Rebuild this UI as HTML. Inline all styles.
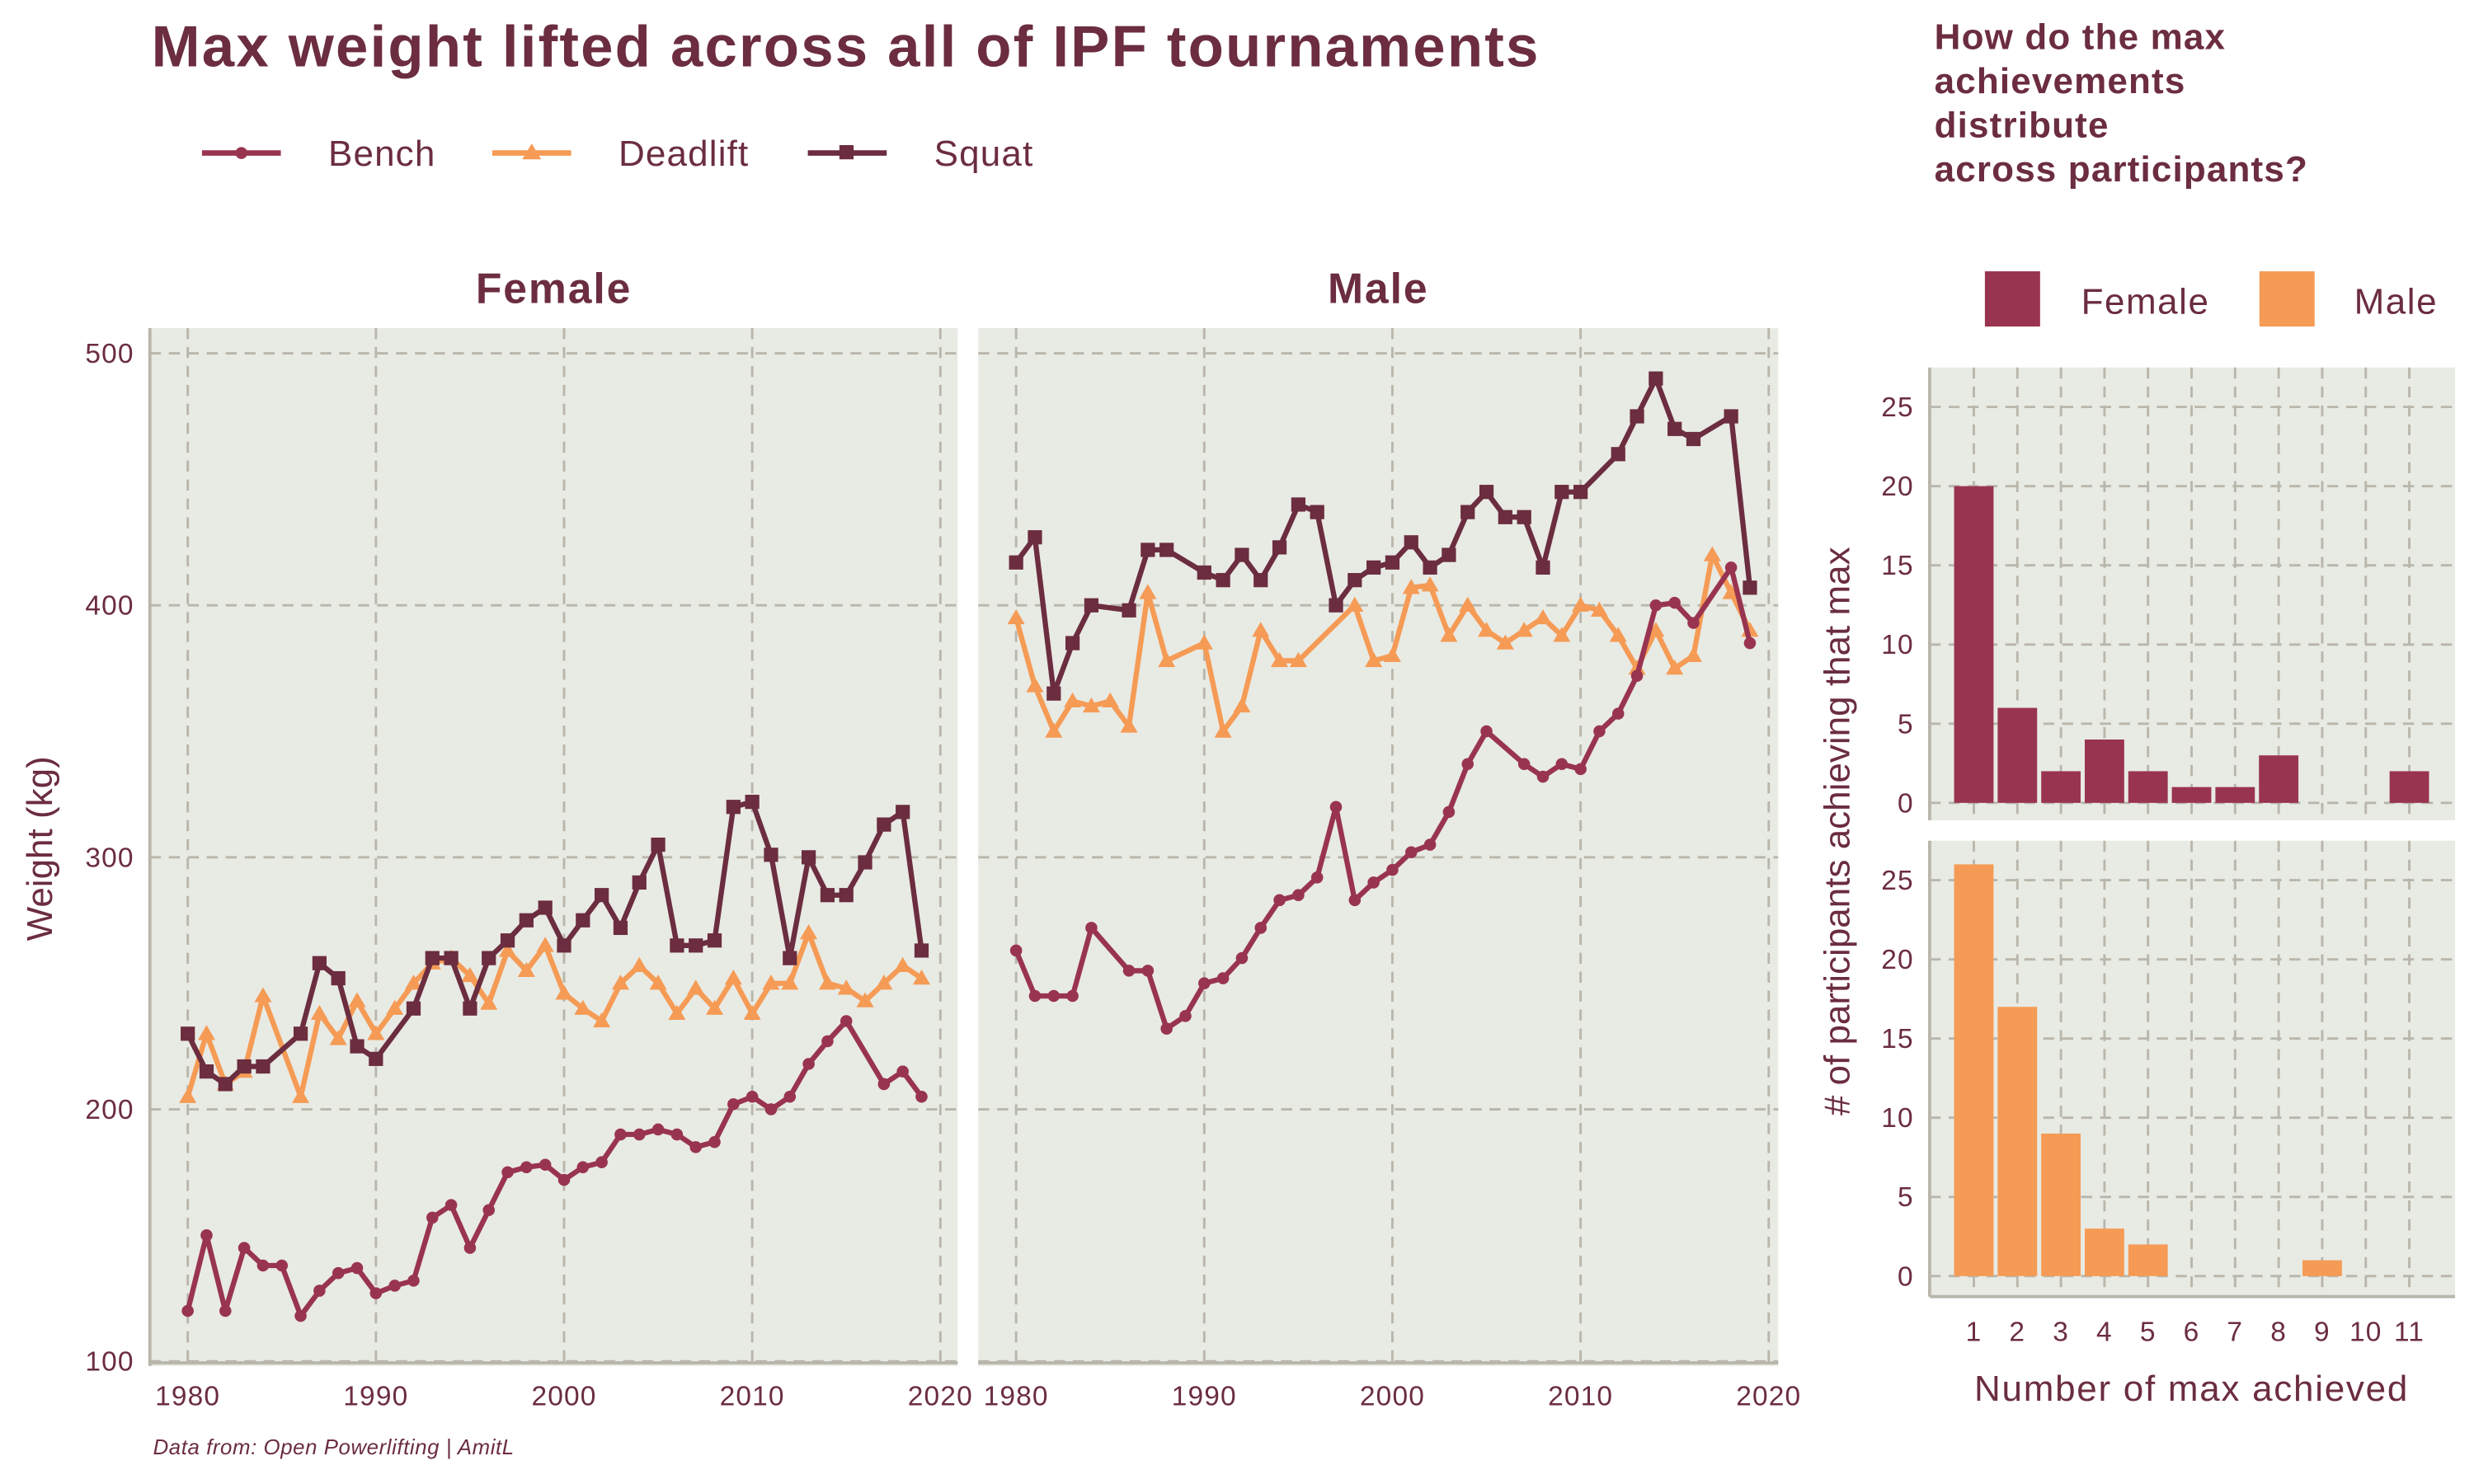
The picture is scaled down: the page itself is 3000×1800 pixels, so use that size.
<!DOCTYPE html>
<html><head><meta charset="utf-8"><style>
html,body{margin:0;padding:0;background:#fff;}
svg{display:block;font-family:"Liberation Sans",Arial,sans-serif;}
</style></head><body>
<svg id="chart" width="3000" height="1800" viewBox="0 0 1568 940.8" xmlns="http://www.w3.org/2000/svg">
<text x="96" y="42" font-size="37" font-weight="bold" fill="#6B2D3F" textLength="879" lengthAdjust="spacing">Max weight lifted across all of IPF tournaments</text>
<g font-size="23" fill="#6B2D3F" letter-spacing="0.6">
<g><line x1="128" y1="97" x2="178" y2="97" stroke="#993450" stroke-width="3.5"/><circle cx="153" cy="97" r="3.8" fill="#993450"/><text x="208" y="105">Bench</text></g>
<g><line x1="312" y1="97" x2="362" y2="97" stroke="#F59B55" stroke-width="3.5"/><polygon points="337,91 343,101 331,101" fill="#F59B55"/><text x="392" y="105">Deadlift</text></g>
<g><line x1="512" y1="97" x2="562" y2="97" stroke="#6B2D3F" stroke-width="3.5"/><rect x="532" y="92" width="9" height="9" fill="#6B2D3F"/><text x="592" y="105">Squat</text></g>
</g>
<text font-size="23" font-weight="bold" fill="#6B2D3F" letter-spacing="0.6"><tspan x="1226" y="31">How do the max</tspan><tspan x="1226" y="59">achievements</tspan><tspan x="1226" y="87">distribute</tspan><tspan x="1226" y="115">across participants?</tspan></text>
<g font-size="23" fill="#6B2D3F" letter-spacing="0.8">
<rect x="1258" y="172" width="35" height="35" fill="#993450"/><text x="1319" y="199">Female</text>
<rect x="1432" y="172" width="35" height="35" fill="#F59B55"/><text x="1492" y="199">Male</text>
</g>
<text transform="translate(33,538) rotate(-90)" text-anchor="middle" font-size="23" fill="#6B2D3F">Weight (kg)</text>
<text transform="translate(1172,527) rotate(-90)" text-anchor="middle" font-size="23" fill="#6B2D3F"># of participants achieving that max</text>
<text x="1389" y="888" text-anchor="middle" font-size="23" fill="#6B2D3F" letter-spacing="0.9">Number of max achieved</text>
<text x="97" y="922" font-size="13.5" font-style="italic" fill="#6B2D3F" letter-spacing="0.3">Data from: Open Powerlifting | AmitL</text>
<g id="plots"></g>
</svg>
<script>
const years = [1980,1981,1982,1983,1984,1985,1986,1987,1988,1989,1990,1991,1992,1993,1994,1995,1996,1997,1998,1999,2000,2001,2002,2003,2004,2005,2006,2007,2008,2009,2010,2011,2012,2013,2014,2015,2016,2017,2018,2019];
const femaleBench = [120,150,120,145,138,138,118,128,135,137,127,130,132,157,162,145,160,175,177,178,172,177,179,190,190,192,190,185,187,202,205,200,205,218,227,235,null,210,215,205];
const femaleDeadlift = [205,230,210,215,245,null,205,238,228,243,230,240,250,258,260,253,242,263,255,265,246,240,235,250,257,250,238,248,240,252,238,250,250,270,250,248,243,250,257,252];
const femaleSquat = [230,215,210,217,217,null,230,258,252,225,220,null,240,260,260,240,260,267,275,280,265,275,285,272,290,305,265,265,267,320,322,301,260,300,285,285,298,313,318,263];
const maleBench = [263,245,245,245,272,null,255,255,232,237,250,252,260,272,283,285,292,320,283,290,295,302,305,318,337,350,null,337,332,337,335,350,357,372,400,401,393,null,415,385];
const maleDeadlift = [395,368,350,362,360,362,352,405,378,null,385,350,360,390,378,378,null,null,400,378,380,407,408,388,400,390,385,390,395,388,400,398,388,375,390,375,380,420,405,390];
const maleSquat = [417,427,365,385,400,null,398,422,422,null,413,410,420,410,423,440,437,400,410,415,417,425,415,420,437,445,435,435,415,445,445,null,460,475,490,470,466,null,475,407];
const yTicks = [100,200,300,400,500];
const xTicks = [1980,1990,2000,2010,2020];
const counts = [1,2,3,4,5,6,7,8,9,10,11];
const femaleCounts = [20,6,2,4,2,1,1,3,0,0,2];
const maleCounts = [26,17,9,3,2,0,0,0,1,0,0];
const countTicks = [0,5,10,15,20,25];

const NS='http://www.w3.org/2000/svg';
const root=document.getElementById('plots');
function mk(tag,attrs,parent){const e=document.createElementNS(NS,tag);for(const k in attrs)e.setAttribute(k,attrs[k]);(parent||root).appendChild(e);return e;}
const GRID='#B9B6AB', BG='#E8EAE4', TXT='#6B2D3F';

function linePanel(name,px0,px1,title,series){
  const g=mk('g',{});
  
  
  const top=208,bot=866;
  const xs=y=>px0+24+(y-1980)*(477/40);
  const ys=v=>863-(v-100)*(639/400);
  mk('rect',{x:px0,y:top,width:px1-px0,height:bot-top,fill:BG},g);
  const t=mk('text',{x:(px0+px1)/2,y:192,'text-anchor':'middle','font-size':27,'font-weight':'bold',fill:TXT,'letter-spacing':1},g);
  t.textContent=title;
  
  
  yTicks.forEach(v=>{mk('line',{x1:px0,x2:px1,y1:ys(v),y2:ys(v),stroke:GRID,'stroke-width':1.5,'stroke-dasharray':'7,5'},g);});
  xTicks.forEach(v=>{mk('line',{x1:xs(v),x2:xs(v),y1:top,y2:bot,stroke:GRID,'stroke-width':1.5,'stroke-dasharray':'7,5'},g);
    const tx=mk('text',{x:xs(v),y:891,'text-anchor':'middle','font-size':17.5,fill:TXT,'letter-spacing':0.6},g);tx.textContent=v;
    
    });
  mk('line',{x1:px0,x2:px1,y1:bot-2,y2:bot-2,stroke:GRID,'stroke-width':2},g);
  if(px0<200){
    mk('line',{x1:px0,x2:px0,y1:top,y2:bot,stroke:GRID,'stroke-width':2},g);
    yTicks.forEach(v=>{const tx=mk('text',{x:px0-10,y:ys(v)+6,'text-anchor':'end','font-size':17.5,fill:TXT,'letter-spacing':0.6},g);tx.textContent=v;
      
      });
  }
  series.forEach(s=>{
    let d='',pen=false;
    s.vals.forEach((v,i)=>{if(v==null)return;d+=(pen?'L':'M')+xs(years[i]).toFixed(1)+','+ys(v).toFixed(1);pen=true;});
    const p=mk('path',{d:d,fill:'none',stroke:s.c,'stroke-width':3.3,'stroke-linejoin':'round'},g);
    
    
    s.vals.forEach((v,i)=>{if(v==null)return;const x=xs(years[i]),y=ys(v);let m;
      if(s.m==='c')m=mk('circle',{cx:x,cy:y,r:3.8,fill:s.c},g);
      else if(s.m==='t')m=mk('polygon',{points:`${x},${y-5.5} ${x+5.5},${y+4} ${x-5.5},${y+4}`,fill:s.c},g);
      else m=mk('rect',{x:x-4.5,y:y-4.5,width:9,height:9,fill:s.c},g);
      
      });
  });
}
linePanel('female-panel',95,607,'Female',[
 {n:'deadlift',c:'#F59B55',m:'t',vals:femaleDeadlift},
 {n:'squat',c:'#6B2D3F',m:'s',vals:femaleSquat},
 {n:'bench',c:'#993450',m:'c',vals:femaleBench}]);
linePanel('male-panel',620,1127,'Male',[
 {n:'deadlift',c:'#F59B55',m:'t',vals:maleDeadlift},
 {n:'squat',c:'#6B2D3F',m:'s',vals:maleSquat},
 {n:'bench',c:'#993450',m:'c',vals:maleBench}]);

function barPanel(name,top,bot,zeroY,vals,color,showX){
  const g=mk('g',{});
  
  
  const px0=1223,px1=1556;
  const xs=c=>1251+(c-1)*27.6;
  const ys=v=>zeroY-v*(251/25);
  mk('rect',{x:px0,y:top,width:px1-px0,height:bot-top,fill:BG},g);
  countTicks.forEach(v=>{mk('line',{x1:px0,x2:px1,y1:ys(v),y2:ys(v),stroke:GRID,'stroke-width':1.5,'stroke-dasharray':'7,5'},g);
    const tx=mk('text',{x:px0-10,y:ys(v)+6,'text-anchor':'end','font-size':17.5,fill:TXT,'letter-spacing':0.6},g);tx.textContent=v;
    
    });
  counts.forEach(c=>{mk('line',{x1:xs(c),x2:xs(c),y1:top,y2:bot,stroke:GRID,'stroke-width':1.5,'stroke-dasharray':'7,5'},g);});
  mk('line',{x1:px0,x2:px0,y1:top,y2:bot,stroke:GRID,'stroke-width':2},g);
  if(showX){mk('line',{x1:px0,x2:px1,y1:bot,y2:bot,stroke:GRID,'stroke-width':2},g);
    counts.forEach(c=>{const tx=mk('text',{x:xs(c),y:bot+28,'text-anchor':'middle','font-size':17.5,fill:TXT,'letter-spacing':0.6},g);tx.textContent=c;
      
      });}
  vals.forEach((v,i)=>{if(!v)return;const b=mk('rect',{x:xs(counts[i])-12.5,y:ys(v),width:25,height:zeroY-ys(v),fill:color},g);
    
    });
}
barPanel('female-bar-panel',233,520,509,femaleCounts,'#993450',false);
barPanel('male-bar-panel',533,822,809,maleCounts,'#F59B55',true);
</script>
</body></html>
